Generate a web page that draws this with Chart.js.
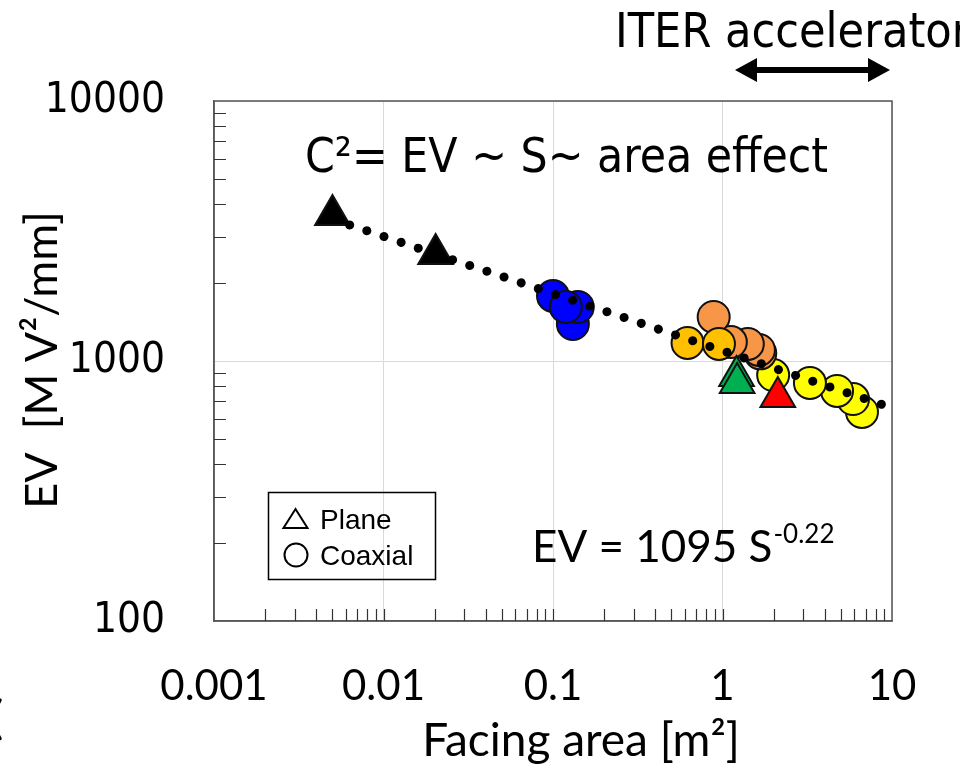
<!DOCTYPE html>
<html><head><meta charset="utf-8">
<script src="https://cdn.jsdelivr.net/npm/chart.js@4.4.1/dist/chart.umd.min.js"></script>
<style>html,body{margin:0;padding:0;background:#fff}#wrap{width:960px;height:765px;position:relative}</style>
</head><body><div id="wrap"><canvas id="c" width="960" height="765"></canvas></div>
<script>
// ---- data ----
const xTicks = [0.001, 0.01, 0.1, 1, 10];
const xTickLabels = ['0.001', '0.01', '0.1', '1', '10'];
const yTicks = [100, 1000, 10000];
const yTickLabels = ['100', '1000', '10000'];

const planeBlackS = [0.005, 0.0203];
const planeBlackEV = [3640, 2580];
const planeGreenS = [1.21, 1.22];
const planeGreenEV = [876, 823];
const planeRedS = [2.12];
const planeRedEV = [727];

const coaxBlueS = [0.100, 0.131, 0.140, 0.119];
const coaxBlueEV = [1778, 1387, 1614, 1614];
const coaxOrangeS = [1.67, 1.64, 1.41, 1.12, 0.887];
const coaxOrangeEV = [1070, 1103, 1163, 1183, 1477];
const coaxGoldS = [0.622, 0.953];
const coaxGoldEV = [1173, 1163];
const coaxYellowS = [6.65, 5.89, 4.74, 3.28, 1.99];
const coaxYellowEV = [637, 714, 767, 823, 883];

const fitS = [0.005, 10];
const fitEV = [3510, 660];

const xTitle = 'Facing area [m²]';
const yTitle = 'EV  [M V²/mm]';

function pts(xs, ys) { return xs.map((x, i) => ({x: x, y: ys[i]})); }

const CONDENSED = '"DejaVu Sans Condensed", "DejaVu Sans", sans-serif';
const HUMAN = 'Lato, "Open Sans", sans-serif';

const circleDs = (label, xs, ys, color, order) => ({
  type: 'scatter', label, data: pts(xs, ys), order,
  pointStyle: 'circle', pointRadius: 16, backgroundColor: color,
  borderColor: '#111', borderWidth: 2
});
const triDs = (label, xs, ys, color, order) => ({
  type: 'scatter', label, data: pts(xs, ys), order,
  pointStyle: 'triangle', pointRadius: 20, backgroundColor: color,
  borderColor: '#111', borderWidth: 2
});

const decor = {
  id: 'decor',
  beforeDatasetsDraw(chart) {
    const {ctx, chartArea: a, scales} = chart;
    ctx.save();
    // frame
    ctx.strokeStyle = '#555'; ctx.lineWidth = 1.5;
    ctx.strokeRect(a.left, a.top, a.right - a.left, a.bottom - a.top);
    // inward minor ticks
    ctx.strokeStyle = '#333'; ctx.lineWidth = 1.2;
    ctx.beginPath();
    for (let d = 0.001; d < 10; d *= 10) {
      for (let m = 1; m <= 9; m++) {
        if (m === 1 && d === 0.001) continue;
        const px = Math.round(scales.x.getPixelForValue(m * d)) + 0.5;
        ctx.moveTo(px, a.bottom); ctx.lineTo(px, a.bottom - 12);
      }
    }
    for (let d = 100; d < 10000; d *= 10) {
      for (let m = 2; m <= 9; m++) {
        const py = Math.round(scales.y.getPixelForValue(m * d)) + 0.5;
        ctx.moveTo(a.left, py); ctx.lineTo(a.left + 12, py);
      }
    }
    ctx.stroke();
    ctx.restore();
  },
  afterDraw(chart) {
    const {ctx} = chart;
    ctx.save();
    ctx.fillStyle = '#000';
    ctx.textBaseline = 'alphabetic';
    // axis titles
    ctx.font = '46px ' + HUMAN;
    ctx.textAlign = 'center';
    ctx.fillText(xTitle, 581, 756);
    ctx.save();
    ctx.translate(57, 360);
    ctx.rotate(-Math.PI / 2);
    ctx.font = '45px ' + HUMAN;
    ctx.fillText(yTitle, 0, 0);
    ctx.restore();
    // stray bracket at the left edge
    ctx.textAlign = 'left';
    ctx.font = '46px ' + HUMAN;
    ctx.fillText('(', -9, 734);

    // ITER accelerator
    ctx.font = '48px ' + CONDENSED;
    ctx.textAlign = 'left';
    ctx.fillText('ITER accelerator', 615, 47);
    // double arrow
    const y0 = 70, xa = 735, xb = 890, hl = 22, hh = 12, sh = 3;
    ctx.beginPath();
    ctx.moveTo(xa, y0);
    ctx.lineTo(xa + hl, y0 - hh); ctx.lineTo(xa + hl, y0 - sh);
    ctx.lineTo(xb - hl, y0 - sh); ctx.lineTo(xb - hl, y0 - hh);
    ctx.lineTo(xb, y0);
    ctx.lineTo(xb - hl, y0 + hh); ctx.lineTo(xb - hl, y0 + sh);
    ctx.lineTo(xa + hl, y0 + sh); ctx.lineTo(xa + hl, y0 + hh);
    ctx.closePath(); ctx.fill();

    // C² annotation
    ctx.font = '47.5px ' + CONDENSED;
    ctx.fillText('C²= EV ~ S~ area effect', 305, 172);

    // fit equation
    ctx.font = '44px ' + HUMAN;
    const base = 'EV = 1095 S';
    ctx.fillText(base, 532, 562);
    const w = ctx.measureText(base).width;
    ctx.font = '26px ' + HUMAN;
    ctx.fillText('-0.22', 532 + w + 1, 543);

    // legend box
    ctx.strokeStyle = '#000'; ctx.lineWidth = 1.5;
    ctx.strokeRect(268.5, 492.5, 167, 87);
    ctx.lineWidth = 2;
    ctx.beginPath();
    ctx.moveTo(295.5, 509); ctx.lineTo(307.5, 528); ctx.lineTo(283.5, 528); ctx.closePath();
    ctx.stroke();
    ctx.beginPath(); ctx.arc(296, 555, 11.5, 0, Math.PI * 2); ctx.stroke();
    ctx.font = '28px "Liberation Sans", Arial, sans-serif';
    ctx.fillText('Plane', 320, 529);
    ctx.fillText('Coaxial', 320, 565);
    ctx.restore();
  }
};

new Chart(document.getElementById('c'), {
  data: {
    datasets: [
      {type: 'line', label: 'fit', data: pts(fitS, fitEV), order: 0,
       borderColor: '#000', borderWidth: 9, borderDash: [0.1, 18], borderCapStyle: 'round',
       pointRadius: 0, fill: false, tension: 0},
      triDs('Plane red', planeRedS, planeRedEV, '#ff0000', 3),
      triDs('Plane green', planeGreenS, planeGreenEV, '#00b050', 4),
      triDs('Plane black', planeBlackS, planeBlackEV, '#000000', 5),
      circleDs('Coaxial blue', coaxBlueS, coaxBlueEV, '#0000ff', 6),
      circleDs('Coaxial gold', coaxGoldS, coaxGoldEV, '#ffc000', 7),
      circleDs('Coaxial orange', coaxOrangeS, coaxOrangeEV, '#f79646', 8),
      circleDs('Coaxial yellow', coaxYellowS, coaxYellowEV, '#ffff00', 9)
    ]
  },
  options: {
    responsive: false, animation: false, events: [],
    layout: {padding: {top: 101, right: 68, left: 0, bottom: 0}},
    plugins: {legend: {display: false}, tooltip: {enabled: false}},
    scales: {
      x: {
        type: 'logarithmic', position: 'bottom', min: 0.001, max: 10,
        afterBuildTicks: s => { s.ticks = xTicks.map(v => ({value: v})); },
        afterFit: s => { s.height = 144; },
        grid: {color: '#d9d9d9', lineWidth: 1, drawTicks: false},
        border: {color: '#666', width: 1.5},
        ticks: {
          autoSkip: false, maxRotation: 0, padding: 40, color: '#000',
          font: {family: HUMAN, size: 42},
          callback: (v, i) => xTickLabels[i]
        }
      },
      y: {
        type: 'logarithmic', position: 'left', min: 100, max: 10000,
        afterBuildTicks: s => { s.ticks = yTicks.map(v => ({value: v})); },
        afterFit: s => { s.width = 214; },
        grid: {color: '#d9d9d9', lineWidth: 1, drawTicks: false},
        border: {color: '#666', width: 1.5},
        ticks: {
          autoSkip: false, padding: 49, color: '#000',
          font: {family: CONDENSED, size: 42},
          callback: (v, i) => yTickLabels[i]
        }
      }
    }
  },
  plugins: [decor]
});
</script>
</body></html>
